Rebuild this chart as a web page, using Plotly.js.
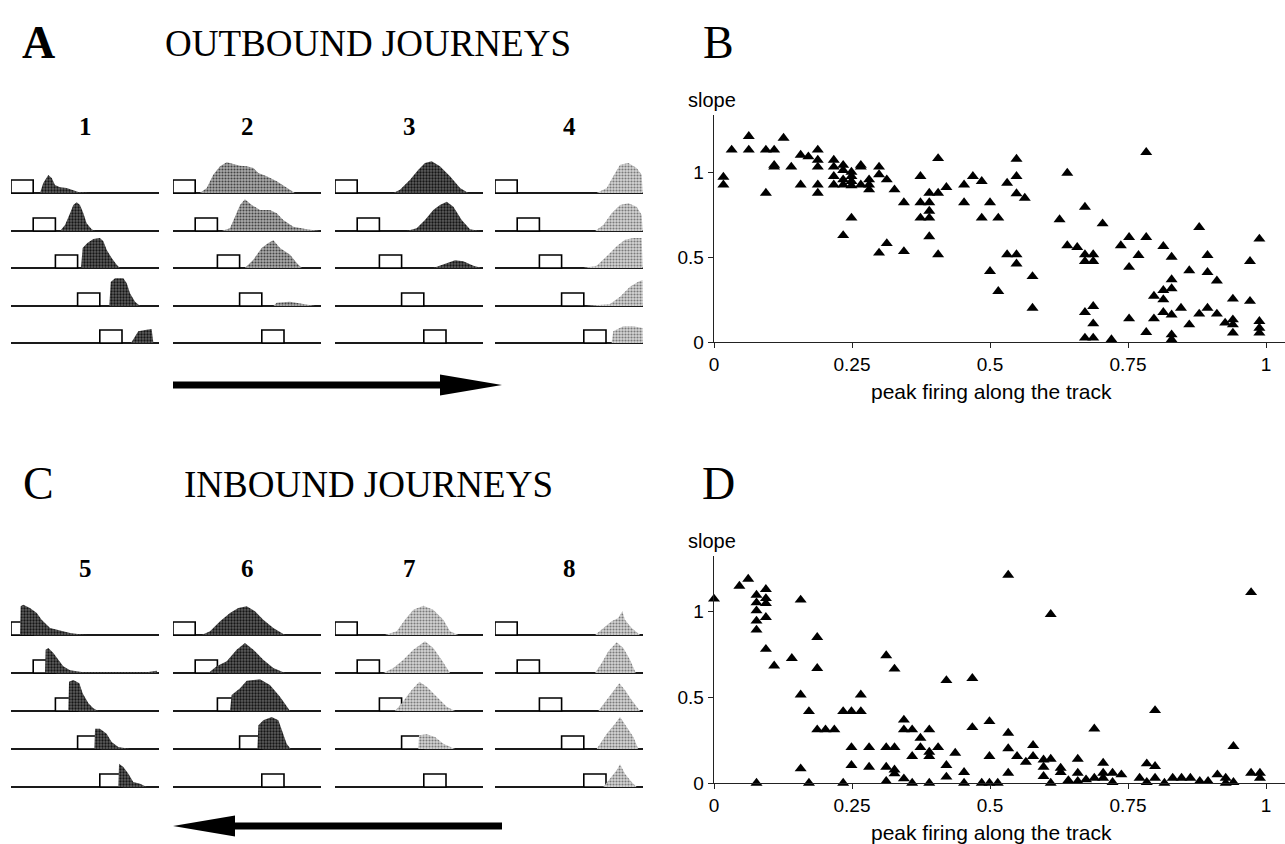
<!DOCTYPE html>
<html><head><meta charset="utf-8">
<script src="https://cdn.plot.ly/plotly-3.0.1.min.js"></script>
<style>html,body{margin:0;padding:0;background:#fff}#chart{width:1285px;height:844px}</style>
</head><body><div id="chart"></div>
<script>
// ---------- Panel B: outbound journeys (peak position vs slope) ----------
const outPeak = [0.017,0.017,0.032,0.063,0.063,0.094,0.109,0.126,0.109,0.109,
  0.094,0.14,0.157,0.171,0.188,0.188,0.188,0.157,0.188,0.188,
  0.217,0.217,0.217,0.217,0.234,0.234,0.234,0.234,0.249,0.249,
  0.249,0.249,0.266,0.266,0.266,0.281,0.281,0.281,0.299,0.299,
  0.313,0.327,0.344,0.234,0.249,0.299,0.313,0.344,0.374,0.374,
  0.374,0.39,0.39,0.39,0.39,0.39,0.406,0.406,0.406,0.421,
  0.453,0.453,0.469,0.485,0.485,0.5,0.5,0.515,0.515,0.531,
  0.548,0.548,0.548,0.563,0.531,0.548,0.548,0.577,0.577,0.64,
  0.626,0.672,0.704,0.64,0.658,0.672,0.687,0.672,0.687,0.672,
  0.687,0.687,0.672,0.687,0.72,0.737,0.737,0.752,0.752,0.752,
  0.769,0.783,0.783,0.783,0.797,0.797,0.814,0.814,0.814,0.814,
  0.814,0.829,0.829,0.829,0.829,0.829,0.829,0.846,0.846,0.861,
  0.861,0.879,0.879,0.894,0.894,0.894,0.894,0.911,0.911,0.926,
  0.94,0.94,0.94,0.94,0.94,0.958,0.958,0.971,0.971,0.971,
  0.988,0.988,0.988,0.988,0.988,0.988];
const outSlope = [0.97,0.925,1.13,1.21,1.13,1.13,1.13,1.2,1.04,1.03,
  0.876,1.03,1.1,1.09,1.13,1.07,1.03,0.925,0.925,0.876,
  1.07,1.03,0.975,0.925,1.04,1.01,0.955,0.925,1.0,0.975,
  0.945,0.92,1.04,1.03,0.925,0.955,0.925,0.896,1.03,0.985,
  0.955,0.896,0.82,0.627,0.73,0.524,0.58,0.533,0.975,0.82,
  0.73,0.876,0.82,0.77,0.73,0.62,1.08,0.876,0.514,0.91,
  0.925,0.82,0.975,0.945,0.73,0.82,0.416,0.73,0.298,0.935,
  1.076,0.975,0.873,0.847,0.514,0.514,0.46,0.386,0.2,0.994,
  0.72,0.794,0.696,0.567,0.557,0.514,0.514,0.475,0.475,0.175,
  0.21,0.108,0.024,0.024,0.014,-0.016,0.567,0.616,0.44,0.137,
  0.51,1.116,0.616,0.057,0.27,0.137,0.563,0.304,0.25,0.175,
  -0.016,0.5,0.367,0.314,0.16,0.043,0.014,0.2,-0.104,0.42,
  0.102,0.675,0.165,0.51,0.41,0.2,-0.016,0.36,0.165,0.112,
  0.253,0.131,0.102,0.053,-0.02,-0.002,-0.12,0.475,0.24,-0.002,
  0.606,0.122,0.082,0.053,-0.006,-0.069];

// ---------- Panel D: inbound journeys ----------
const inPeak = [0,0.046,0.062,0.077,0.077,0.077,0.077,0.077,0.094,0.094,
  0.094,0.094,0.094,0.109,0.141,0.157,0.157,0.157,0.077,0.172,
  0.172,0.187,0.187,0.187,0.202,0.218,0.234,0.249,0.266,0.266,
  0.234,0.249,0.249,0.281,0.281,0.312,0.327,0.312,0.312,0.312,
  0.327,0.327,0.327,0.344,0.344,0.344,0.359,0.359,0.359,0.374,
  0.374,0.39,0.39,0.39,0.39,0.406,0.421,0.421,0.421,0.437,
  0.453,0.453,0.468,0.468,0.485,0.499,0.499,0.499,0.514,0.533,
  0.533,0.533,0.533,0.549,0.565,0.565,0.578,0.578,0.597,0.597,
  0.597,0.61,0.61,0.61,0.628,0.628,0.642,0.659,0.659,0.659,
  0.674,0.689,0.689,0.705,0.705,0.705,0.722,0.722,0.738,0.753,
  0.771,0.784,0.784,0.799,0.799,0.799,0.816,0.831,0.847,0.863,
  0.88,0.895,0.912,0.927,0.927,0.941,0.941,0.973,0.973,0.989,
  0.989,0.989];
const inSlope = [1.07,1.145,1.186,1.093,1.048,1.002,0.942,0.89,1.126,1.073,
  1.044,0.963,0.778,0.681,0.725,1.064,0.513,0.083,0,0.416,
  0,0.847,0.667,0.31,0.31,0.31,0.416,0.416,0.513,0.416,
  0,0.207,0.103,0.207,0.093,0.741,0.663,0.207,0.093,0.01,
  0.207,0.077,0.054,0.367,0.31,0.025,0.31,0.155,0,0.261,
  0.207,0.31,0.18,0.155,0,0.207,0.596,0.103,0.035,0.174,
  0.062,0,0.609,0.323,0,0.358,0.155,0,0,1.209,
  0.29,0.2,0.058,0.155,0.122,-0.01,0.219,0.155,0.135,0.093,
  0.039,0.981,0.139,0,0.087,0.062,0.015,0.139,0.058,0.01,
  0.019,0.315,0.029,0.116,0.058,0.029,0.058,0.004,0.048,-0.01,
  0.029,0.112,0.004,0.422,0.097,0.029,0,0.029,0.029,0.029,
  0.01,0.01,0.048,0.029,0,0.213,0.004,1.108,0.058,0.058,
  0.029,-0.01];

const xTickVals = [0, 0.25, 0.5, 0.75, 1];
const xTickText = ['0', '0.25', '0.5', '0.75', '1'];
const yTickVals = [0, 0.5, 1];
const yTickText = ['0', '0.5', '1'];

// ---------- Panels A and C: firing profiles along the track ----------
const cellLabels = ['1', '2', '3', '4', '5', '6', '7', '8'];
const boxStart = [0, 0.15, 0.3, 0.45, 0.6];   // start-box position per row
const boxWidth = 0.15;
const boxHeight = 13;
const cellTone = ['dark', 'mid', 'dark', 'light', 'dark', 'dark', 'light', 'light'];

// each cell: 5 rows, each row a list of [track position, firing rate]
const cell1 = [
  [[0.196,0],[0.218,10],[0.252,18],[0.275,15],[0.297,8],[0.331,5.7],[0.376,5],[0.41,3.3],[0.455,1],[0.51,0.3],[0.53,0]],
  [[0.331,0],[0.365,6],[0.399,17.7],[0.421,26],[0.444,28.7],[0.466,26],[0.489,17.7],[0.511,7.7],[0.545,1.7],[0.568,0]],
  [[0.473,0],[0.484,20],[0.516,25],[0.556,29],[0.601,30],[0.624,26.7],[0.647,18],[0.68,10],[0.714,3.3],[0.736,0]],
  [[0.664,0],[0.674,24],[0.703,27.7],[0.759,27.7],[0.782,22.7],[0.804,12.7],[0.838,4.3],[0.872,0]],
  [[0.811,0],[0.838,6.7],[0.86,11.7],[0.916,13.3],[0.95,14],[0.962,0]]
];
const cell2 = [
  [[0.182,0],[0.228,5],[0.272,18.3],[0.318,26.7],[0.363,30.7],[0.408,29.3],[0.453,27.3],[0.498,26.7],[0.543,25],[0.577,20],[0.633,16.7],[0.701,11.7],[0.768,5],[0.824,0]],
  [[0.329,0],[0.385,2.7],[0.419,14.3],[0.453,26],[0.486,31.7],[0.532,26],[0.588,21],[0.655,21],[0.701,17.7],[0.745,11],[0.813,4.3],[0.903,1.7],[0.993,0]],
  [[0.486,0],[0.543,8.3],[0.599,20],[0.644,25],[0.678,27.7],[0.723,20],[0.791,13.3],[0.836,5],[0.87,0]],
  [[0.678,0],[0.701,3.3],[0.791,4.3],[0.858,2.7],[0.959,0]],
  []
];
const cell3 = [
  [[0.394,0],[0.439,3.3],[0.507,13.3],[0.563,23.3],[0.608,30],[0.653,31.7],[0.709,26.7],[0.777,16.7],[0.845,5],[0.901,0]],
  [[0.484,0],[0.552,2.7],[0.608,11],[0.664,21],[0.709,26],[0.755,29.3],[0.8,24.3],[0.856,11],[0.912,1.7],[0.98,0]],
  [[0.664,0],[0.732,3.3],[0.811,7.7],[0.867,6.7],[0.935,2.3],[0.991,0]],
  [],
  []
];
const cell4 = [
  [[0.687,0],[0.755,5],[0.799,16.7],[0.845,28.3],[0.901,30],[0.957,25],[0.991,18.3],[0.998,0]],
  [[0.676,0],[0.732,6],[0.788,17.7],[0.845,26],[0.901,27.7],[0.957,24.3],[0.991,16],[0.998,0]],
  [[0.597,0],[0.687,2.3],[0.755,11.7],[0.822,21.7],[0.878,28.3],[0.935,30],[0.991,30],[0.998,0]],
  [[0.619,0],[0.777,2],[0.845,9.3],[0.912,19.3],[0.968,24.3],[0.997,26],[0.999,0]],
  [[0.788,0],[0.799,11.7],[0.867,16.7],[0.935,16.7],[0.997,15],[0.999,0]]
];
const cell5 = [
  [[0.061,0],[0.065,28.7],[0.083,30.3],[0.128,27],[0.174,22],[0.207,15.3],[0.264,7],[0.331,4.7],[0.399,2],[0.489,0.3],[0.52,0]],
  [[0.23,0],[0.234,23.3],[0.252,25],[0.286,20],[0.32,13.3],[0.353,6.7],[0.399,2.7],[0.489,0.7],[0.917,0.7],[0.984,2.3],[0.989,0]],
  [[0.387,0],[0.392,29.3],[0.421,31],[0.462,27.7],[0.484,17.7],[0.523,7.7],[0.556,2.7],[0.59,0]],
  [[0.563,0],[0.568,20.3],[0.601,20.3],[0.646,15.3],[0.68,7],[0.725,2],[0.804,0]],
  [[0.725,0],[0.73,23.3],[0.759,20],[0.793,13.3],[0.826,5],[0.872,3.3],[0.917,0]]
];
const cell6 = [
  [[0.194,0],[0.25,3.7],[0.318,13.7],[0.385,22],[0.441,27],[0.498,28.7],[0.554,23.7],[0.61,15.3],[0.678,7],[0.757,0]],
  [[0.239,0],[0.295,6.7],[0.363,11.7],[0.43,23.3],[0.486,30],[0.543,23.3],[0.61,13.3],[0.678,5],[0.757,0]],
  [[0.385,0],[0.396,16],[0.453,22.7],[0.498,30.3],[0.588,31.7],[0.655,26],[0.723,14.3],[0.791,0]],
  [[0.57,0],[0.577,23.7],[0.61,28.7],[0.667,32],[0.712,28.7],[0.745,15.3],[0.768,5.3],[0.795,0]],
  []
];
const cell7 = [
  [[0.338,0],[0.417,3.7],[0.473,15.3],[0.529,25.3],[0.597,29.3],[0.664,25.3],[0.732,15.3],[0.777,3.7],[0.833,0]],
  [[0.327,0],[0.394,5],[0.462,13.3],[0.529,23.3],[0.608,31.7],[0.664,25],[0.72,13.3],[0.777,0]],
  [[0.405,0],[0.451,7.7],[0.518,21],[0.57,29.3],[0.62,24.3],[0.687,14.3],[0.755,4.3],[0.811,0]],
  [[0.563,0],[0.568,13.7],[0.62,14.7],[0.676,12],[0.732,5.3],[0.811,0]],
  []
];
const cell8 = [
  [[0.676,0],[0.732,7],[0.788,13.7],[0.833,17],[0.86,23.7],[0.878,15.3],[0.923,7],[0.98,0]],
  [[0.676,0],[0.721,10],[0.766,21.7],[0.822,30.7],[0.867,25],[0.912,13.3],[0.946,1.7],[0.95,0]],
  [[0.698,0],[0.755,11],[0.811,22.7],[0.84,27.7],[0.878,21],[0.923,11],[0.98,0]],
  [[0.687,0],[0.755,15.3],[0.811,25.3],[0.845,32],[0.89,22],[0.935,12],[0.968,0]],
  [[0.732,0],[0.777,8.3],[0.822,16.7],[0.845,22.7],[0.878,13.3],[0.923,5],[0.957,0]]
];
const cells = [cell1, cell2, cell3, cell4, cell5, cell6, cell7, cell8];

// ---------- layout geometry (pixels) ----------
const W = 1285, H = 844;
const px = x => x / W;
const py = y => 1 - y / H;
const colLeft = [11, 173, 335, 495];
const colWidth = 148;
const rowBase = [[193, 231, 268, 306, 343], [635, 673, 711, 749, 787]];
const rowSpan = 35;  // pixels, rate range -1..34

const tones = {
  dark:  {bgcolor: '#5e5e5e', fgcolor: '#151515', size: 3, solidity: 0.45},
  mid:   {bgcolor: '#ababab', fgcolor: '#444444', size: 3, solidity: 0.4},
  light: {bgcolor: '#d4d4d4', fgcolor: '#7a7a7a', size: 3, solidity: 0.4}
};

const serif = 'Liberation Serif, Times New Roman, serif';
const sans = 'Liberation Sans, Arial, sans-serif';

const traces = [];
const layout = {
  width: W, height: H,
  margin: {l: 0, r: 0, t: 0, b: 0},
  paper_bgcolor: '#fff', plot_bgcolor: 'rgba(0,0,0,0)',
  showlegend: false,
  annotations: [], shapes: []
};

// small multiple axes
for (let g = 0; g < 2; g++) {
  for (let c = 0; c < 4; c++) {
    const idx = 3 + g * 4 + c;
    layout['xaxis' + idx] = {
      domain: [px(colLeft[c]), px(colLeft[c] + colWidth)], range: [0, 1],
      visible: false, fixedrange: true, anchor: 'y' + (3 + g * 5)
    };
  }
  for (let r = 0; r < 5; r++) {
    const idx = 3 + g * 5 + r;
    const base = rowBase[g][r];
    layout['yaxis' + idx] = {
      domain: [py(base + 1), py(base + 1 - rowSpan)], range: [-1, 34],
      showgrid: false, showline: false, showticklabels: false, ticks: '',
      zeroline: true, zerolinecolor: '#1a1a1a', zerolinewidth: 1.4,
      fixedrange: true, anchor: 'x' + (3 + g * 4)
    };
  }
}

cells.forEach((cell, p) => {
  const g = p < 4 ? 0 : 1;
  const c = p % 4;
  const xa = 'x' + (3 + g * 4 + c);
  cell.forEach((row, r) => {
    const ya = 'y' + (3 + g * 5 + r);
    const s = boxStart[r];
    traces.push({
      type: 'scatter', mode: 'lines', xaxis: xa, yaxis: ya,
      x: [s, s, s + boxWidth, s + boxWidth, s], y: [0, boxHeight, boxHeight, 0, 0],
      fill: 'toself', fillcolor: '#fff', line: {color: '#000', width: 1.6},
      hoverinfo: 'skip'
    });
    if (row.length) {
      traces.push({
        type: 'scatter', mode: 'lines', xaxis: xa, yaxis: ya,
        x: row.map(d => d[0]), y: row.map(d => d[1]),
        fill: 'tozeroy', line: {width: 0, color: 'rgba(0,0,0,0)'},
        fillcolor: tones[cellTone[p]].bgcolor,
        fillpattern: Object.assign({shape: '.'}, tones[cellTone[p]]),
        hoverinfo: 'skip'
      });
    }
  });
  // panel number
  layout.annotations.push({
    text: '<b>' + cellLabels[p] + '</b>', xref: 'paper', yref: 'paper',
    x: px(colLeft[c] + colWidth / 2), y: py(g === 0 ? 127 : 568),
    xanchor: 'center', yanchor: 'middle', showarrow: false,
    font: {family: serif, size: 25, color: '#000'}
  });
});

// scatter panels B and D
const scatterAxes = (yTop, yBottom, unitPx) => ({
  x: {
    domain: [px(714), 1], range: [0, (W - 714) / 552],
    showline: true, linecolor: '#222', linewidth: 1.3,
    ticks: 'outside', ticklen: 5, tickcolor: '#222',
    tickvals: xTickVals, ticktext: xTickText,
    tickfont: {family: sans, size: 19, color: '#000'},
    showgrid: false, zeroline: false, fixedrange: true
  },
  y: {
    domain: [py(yBottom), py(yTop)], range: [0, (yBottom - yTop) / unitPx],
    showline: true, linecolor: '#222', linewidth: 1.3,
    ticks: 'outside', ticklen: 5, tickcolor: '#222',
    tickvals: yTickVals, ticktext: yTickText,
    tickfont: {family: sans, size: 19, color: '#000'},
    showgrid: false, zeroline: false, fixedrange: true
  }
});
const ab = scatterAxes(115, 342, 170);
layout.xaxis = Object.assign(ab.x, {anchor: 'y'});
layout.yaxis = Object.assign(ab.y, {anchor: 'x'});
const ad = scatterAxes(556, 783, 172);
layout.xaxis2 = Object.assign(ad.x, {anchor: 'y2'});
layout.yaxis2 = Object.assign(ad.y, {anchor: 'x2'});

traces.push({
  type: 'scatter', mode: 'markers', x: outPeak, y: outSlope, xaxis: 'x', yaxis: 'y',
  marker: {symbol: 'triangle-up', size: 10.5, color: '#000'}, cliponaxis: false, hoverinfo: 'skip'
});
traces.push({
  type: 'scatter', mode: 'markers', x: inPeak, y: inSlope, xaxis: 'x2', yaxis: 'y2',
  marker: {symbol: 'triangle-up', size: 10.5, color: '#000'}, cliponaxis: false, hoverinfo: 'skip'
});

// texts
const addText = (text, x, y, font) => layout.annotations.push({
  text: text, xref: 'paper', yref: 'paper', x: px(x), y: py(y),
  xanchor: 'center', yanchor: 'middle', showarrow: false, font: font
});
addText('<b>A</b>', 38, 42, {family: serif, size: 46, color: '#000'});
addText('B', 718, 42, {family: serif, size: 46, color: '#000'});
addText('C', 38, 483, {family: serif, size: 46, color: '#000'});
addText('D', 718, 483, {family: serif, size: 46, color: '#000'});
addText('OUTBOUND JOURNEYS', 368, 44, {family: serif, size: 37, color: '#000'});
addText('INBOUND JOURNEYS', 368, 485, {family: serif, size: 37, color: '#000'});
addText('slope', 712, 100, {family: sans, size: 20, color: '#000'});
addText('slope', 712, 541, {family: sans, size: 20, color: '#000'});
addText('peak firing along the track', 991, 391, {family: sans, size: 21, color: '#000'});
addText('peak firing along the track', 991, 832, {family: sans, size: 21, color: '#000'});

// direction arrows
const arrow = (tail, tip, yc) => {
  const dir = Math.sign(tip - tail);
  const base = tip - dir * 62;
  layout.shapes.push({
    type: 'rect', xref: 'paper', yref: 'paper',
    x0: px(tail), x1: px(base + dir * 2), y0: py(yc - 3.5), y1: py(yc + 3.5),
    fillcolor: '#000', line: {width: 0}
  });
  layout.shapes.push({
    type: 'path', xref: 'paper', yref: 'paper',
    path: 'M' + px(base) + ',' + py(yc - 10.5) + ' L' + px(tip) + ',' + py(yc) +
          ' L' + px(base) + ',' + py(yc + 10.5) + ' Z',
    fillcolor: '#000', line: {width: 0}
  });
};
arrow(173, 502, 385);
arrow(502, 173, 826);

Plotly.newPlot('chart', traces, layout, {staticPlot: true, displayModeBar: false});
</script>
</body></html>
